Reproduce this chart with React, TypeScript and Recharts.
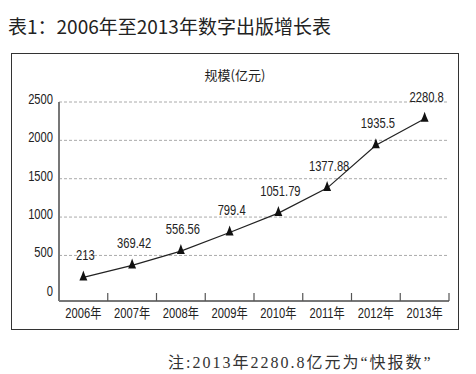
import React from "react";
import { LineChart, Line, XAxis, YAxis, ReferenceLine, LabelList } from "recharts";

const years = ["2006年", "2007年", "2008年", "2009年", "2010年", "2011年", "2012年", "2013年"];
const scale = [213, 369.42, 556.56, 799.4, 1051.79, 1377.88, 1935.5, 2280.8];
const yTicks = [0, 500, 1000, 1500, 2000, 2500];
const gridValues = [500, 1000, 1500, 2000, 2500];

const data = years.map((year, i) => ({ year, value: scale[i] }));

const W = 476;
const H = 374;
const M = { top: 102, right: 27, bottom: 33, left: 0 };
const Y_AXIS_W = 59;
const X_AXIS_H = 40;
const BAND = (W - M.left - M.right - Y_AXIS_W) / years.length;

// no narrow font installed, so squeeze Liberation Sans sideways
const sans = "'Liberation Sans', Arial, sans-serif";
const cjk = "'Noto Sans CJK SC', 'Noto Sans', sans-serif";
const SQ = 0.8;

function Narrow({ x, y, anchor, children, size = 14 }: any) {
  return (
    <g transform={`translate(${x},${y}) scale(${SQ},1)`}>
      <text x={0} y={0} textAnchor={anchor} fill="#222" fontSize={size} fontFamily={sans}>
        {children}
      </text>
    </g>
  );
}

function XTick({ x, y, payload }: any) {
  return (
    <g>
      <line x1={x + BAND / 2} x2={x + BAND / 2} y1={y - 8} y2={y} stroke="#555" strokeWidth={1.2} />
      <Narrow x={x} y={y + 17} anchor="middle">
        {payload.value.replace("年", "")}
        <tspan fontFamily={cjk} fontSize={14}>年</tspan>
      </Narrow>
    </g>
  );
}

function YTick({ x, y, payload }: any) {
  return <Narrow x={x} y={y + 2} anchor="end">{payload.value}</Narrow>;
}

function ValueLabel(props: any) {
  const x = props.x ?? props.viewBox?.x;
  const y = props.y ?? props.viewBox?.y;
  if (x == null || y == null) return null;
  return <Narrow x={x + 2} y={y - 17} anchor="middle">{String(props.value)}</Narrow>;
}

function Marker({ cx, cy }: any) {
  if (cx == null || cy == null) return null;
  const d = `M ${cx} ${cy - 7} L ${cx + 1.6} ${cy - 2.5} L ${cx + 4} ${cy + 3} L ${cx - 4} ${cy + 3} L ${cx - 1.6} ${cy - 2.5} Z`;
  return <path d={d} fill="#111" />;
}

export default function App() {
  return (
    <div style={s.page}>
      <div style={s.title}>表1：2006年至2013年数字出版增长表</div>
      <div style={s.frame} />
      <div style={s.unit}>规模(亿元)</div>
      <div style={s.chart}>
        <LineChart width={W} height={H} data={data} margin={M}>
          <XAxis
            dataKey="year"
            height={X_AXIS_H}
            padding={{ left: BAND / 2, right: BAND / 2 }}
            axisLine={{ stroke: "#777", strokeWidth: 2 }}
            tickLine={false}
            tickSize={0}
            tickMargin={0}
            interval={0}
            tick={<XTick />}
          />
          <YAxis
            width={Y_AXIS_W}
            domain={[-94, 2500]}
            ticks={yTicks}
            allowDataOverflow
            axisLine={{ stroke: "#777", strokeWidth: 2 }}
            tickLine={false}
            tickSize={4}
            tickMargin={2}
            tick={<YTick />}
          />
          {gridValues.map(v => (
            <ReferenceLine key={v} y={v} stroke="#aaa" strokeDasharray="3 2" strokeWidth={1} />
          ))}
          <Line
            type="linear"
            dataKey="value"
            stroke="#222"
            strokeWidth={1.2}
            dot={<Marker />}
            activeDot={false}
            isAnimationActive={false}
          >
            <LabelList dataKey="value" content={<ValueLabel />} />
          </Line>
        </LineChart>
      </div>
      <div style={s.note}>注:2013年2280.8亿元为“快报数”</div>
    </div>
  );
}

const s: Record<string, React.CSSProperties> = {
  page: { position: "fixed", left: 0, top: 0, width: W, height: H, background: "#fff", overflow: "hidden" },
  title: { position: "absolute", left: 8, top: 14, fontSize: 19, color: "#222", fontFamily: cjk, whiteSpace: "nowrap", lineHeight: "24px" },
  frame: { position: "absolute", left: 11, top: 53, width: 446, height: 275, border: "1.5px solid #333" },
  unit: { position: "absolute", left: 0, width: 470, top: 66, textAlign: "center", fontSize: 13, color: "#222", fontFamily: cjk, lineHeight: "18px" },
  chart: { position: "absolute", left: 0, top: 0 },
  note: { position: "absolute", left: 168, top: 352, fontSize: 16, letterSpacing: 2, color: "#333", fontFamily: "'Liberation Serif', 'Noto Sans CJK SC', serif", whiteSpace: "nowrap", lineHeight: "22px" },
};
